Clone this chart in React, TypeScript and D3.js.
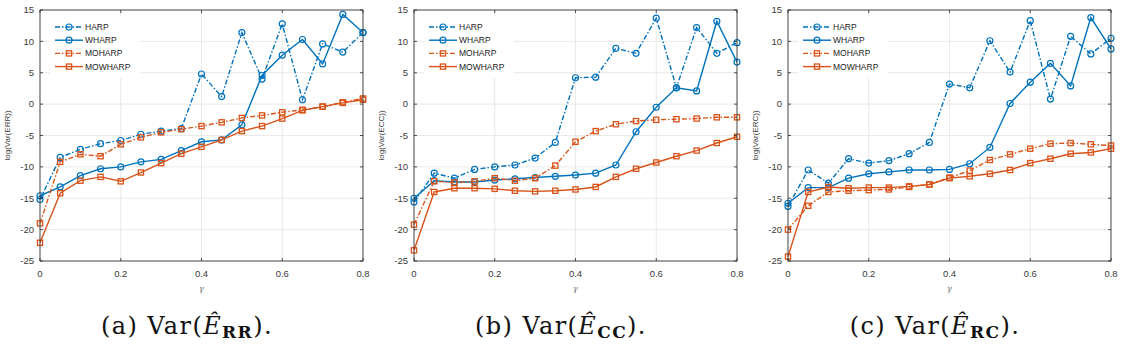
import React, { useEffect, useRef } from 'react';
import * as d3 from 'd3';

const gammas = [0, 0.05, 0.1, 0.15, 0.2, 0.25, 0.3, 0.35, 0.4, 0.45, 0.5, 0.55, 0.6, 0.65, 0.7, 0.75, 0.8];
const seriesNames = ['HARP', 'WHARP', 'MOHARP', 'MOWHARP'];
const xTicks = [0, 0.2, 0.4, 0.6, 0.8];
const yTicks = [-25, -20, -15, -10, -5, 0, 5, 10, 15];

// panel (a) ERR
const errHarp = [-15.2, -8.5, -7.2, -6.3, -5.8, -4.8, -4.3, -3.9, 4.8, 1.2, 11.4, 4.0, 12.8, 0.7, 9.6, 8.3, 11.4];
const errWharp = [-14.6, -13.2, -11.4, -10.3, -10.0, -9.2, -8.8, -7.4, -6.0, -5.7, -3.3, 4.6, 7.8, 10.3, 6.4, 14.3, 11.4];
const errMoharp = [-19.0, -9.2, -8.0, -8.3, -6.4, -5.3, -4.5, -4.0, -3.5, -2.9, -2.2, -1.8, -1.3, -0.9, -0.4, 0.3, 0.9];
const errMowharp = [-22.1, -14.2, -12.2, -11.6, -12.3, -10.9, -9.4, -7.9, -6.8, -5.7, -4.3, -3.5, -2.3, -1.0, -0.4, 0.2, 0.7];

// panel (b) ECC
const eccHarp = [-15.6, -11.0, -11.8, -10.4, -10.0, -9.7, -8.6, -6.1, 4.2, 4.3, 8.9, 8.1, 13.7, 2.6, 12.2, 8.1, 9.8];
const eccWharp = [-15.0, -12.2, -12.4, -12.4, -12.1, -11.9, -11.7, -11.5, -11.3, -11.0, -9.7, -4.4, -0.5, 2.6, 2.1, 13.2, 6.7];
const eccMoharp = [-19.2, -12.3, -12.5, -12.3, -11.8, -12.2, -11.8, -9.8, -6.0, -4.3, -3.2, -2.7, -2.5, -2.4, -2.3, -2.1, -2.1];
const eccMowharp = [-23.3, -14.0, -13.4, -13.4, -13.5, -13.8, -13.9, -13.8, -13.6, -13.2, -11.6, -10.3, -9.3, -8.3, -7.4, -6.2, -5.2];

// panel (c) ERC
const ercHarp = [-16.3, -10.5, -12.6, -8.7, -9.4, -9.0, -7.9, -6.1, 3.2, 2.6, 10.1, 5.1, 13.3, 0.8, 10.8, 8.0, 10.5];
const ercWharp = [-15.8, -13.3, -13.3, -11.8, -11.1, -10.8, -10.5, -10.5, -10.4, -9.5, -6.9, 0.1, 3.5, 6.5, 2.9, 13.8, 8.8];
const ercMoharp = [-20.0, -16.2, -14.0, -13.8, -13.7, -13.6, -13.2, -12.8, -11.7, -10.6, -8.9, -8.0, -7.1, -6.3, -6.2, -6.4, -6.6];
const ercMowharp = [-24.3, -14.0, -13.2, -13.4, -13.3, -13.3, -13.1, -12.8, -11.8, -11.5, -11.1, -10.5, -9.4, -8.7, -7.9, -7.7, -7.1];

const panels = [
  { yLabel: 'log(Var(ERR))', tag: '(a)', sub: 'RR', series: [errHarp, errWharp, errMoharp, errMowharp] },
  { yLabel: 'log(Var(ECC))', tag: '(b)', sub: 'CC', series: [eccHarp, eccWharp, eccMoharp, eccMowharp] },
  { yLabel: 'log(Var(ERC))', tag: '(c)', sub: 'RC', series: [ercHarp, ercWharp, ercMoharp, ercMowharp] },
];

const BLUE = '#0072BD';
const ORANGE = '#D95319';
const colors = [BLUE, BLUE, ORANGE, ORANGE];
const dashed = [true, false, true, false];
const squares = [false, false, true, true];
const DASH = '5,2,1.5,2';
const SANS = 'Liberation Sans, Arial, sans-serif';

const W = 1122;
const H = 344;
const panelW = 374;
const margin = { left: 40, right: 11, top: 10, bottom: 83 };

export default function App() {
  const ref = useRef<SVGSVGElement>(null);

  useEffect(() => {
    if (!ref.current) return;
    const svg = d3.select(ref.current);
    svg.selectAll('*').remove();

    const x = d3.scaleLinear().domain([0, 0.8]).range([margin.left, panelW - margin.right]);
    const y = d3.scaleLinear().domain([-25, 15]).range([H - margin.bottom, margin.top]);

    panels.forEach((p, pi) => {
      const g = svg.append('g').attr('transform', `translate(${pi * panelW},0)`);
      const [x0, x1] = x.range();
      const [y0, y1] = y.range();

      g.append('rect')
        .attr('x', x0).attr('y', y1)
        .attr('width', x1 - x0).attr('height', y0 - y1)
        .attr('fill', '#fff');

      // grid
      g.selectAll('.gx').data(xTicks).enter().append('line')
        .attr('x1', d => x(d)).attr('x2', d => x(d))
        .attr('y1', y0).attr('y2', y1)
        .attr('stroke', '#e3e3e3').attr('stroke-width', 0.8);
      g.selectAll('.gy').data(yTicks).enter().append('line')
        .attr('x1', x0).attr('x2', x1)
        .attr('y1', d => y(d)).attr('y2', d => y(d))
        .attr('stroke', '#e3e3e3').attr('stroke-width', 0.8);

      // legend background
      g.append('rect')
        .attr('x', x0 + 10).attr('y', y(14))
        .attr('width', 90).attr('height', 62)
        .attr('fill', '#fff');

      // series
      p.series.forEach((vals, si) => {
        const line = d3.line<number>().x((_, i) => x(gammas[i])).y(d => y(d));
        g.append('path')
          .attr('d', line(vals))
          .attr('fill', 'none')
          .attr('stroke', colors[si])
          .attr('stroke-width', 1.4)
          .attr('stroke-dasharray', dashed[si] ? DASH : null);
        vals.forEach((v, i) => {
          if (squares[si]) {
            g.append('rect')
              .attr('x', x(gammas[i]) - 2.6).attr('y', y(v) - 2.6)
              .attr('width', 5.2).attr('height', 5.2)
              .attr('fill', 'none').attr('stroke', colors[si]).attr('stroke-width', 1.3);
          } else {
            g.append('circle')
              .attr('cx', x(gammas[i])).attr('cy', y(v)).attr('r', 3)
              .attr('fill', 'none').attr('stroke', colors[si]).attr('stroke-width', 1.2);
          }
        });
      });

      // legend
      seriesNames.forEach((name, si) => {
        const ly = 27 + si * 13.2;
        const lx0 = x0 + 15, lx1 = x0 + 43;
        g.append('line')
          .attr('x1', lx0).attr('x2', lx1).attr('y1', ly).attr('y2', ly)
          .attr('stroke', colors[si]).attr('stroke-width', 1.4)
          .attr('stroke-dasharray', dashed[si] ? DASH : null);
        const cx = (lx0 + lx1) / 2;
        if (squares[si]) {
          g.append('rect').attr('x', cx - 2.6).attr('y', ly - 2.6).attr('width', 5.2).attr('height', 5.2)
            .attr('fill', 'none').attr('stroke', colors[si]).attr('stroke-width', 1.3);
        } else {
          g.append('circle').attr('cx', cx).attr('cy', ly).attr('r', 3)
            .attr('fill', 'none').attr('stroke', colors[si]).attr('stroke-width', 1.2);
        }
        g.append('text')
          .attr('x', lx1 + 2).attr('y', ly + 3)
          .attr('font-family', SANS)
          .attr('font-size', 8.5).attr('fill', '#222')
          .text(name);
      });

      // axes box
      g.append('rect')
        .attr('x', x0).attr('y', y1)
        .attr('width', x1 - x0).attr('height', y0 - y1)
        .attr('fill', 'none').attr('stroke', '#262626').attr('stroke-width', 0.8);

      // ticks (inward)
      xTicks.forEach(t => {
        g.append('line').attr('x1', x(t)).attr('x2', x(t)).attr('y1', y0).attr('y2', y0 - 3)
          .attr('stroke', '#262626').attr('stroke-width', 0.8);
        g.append('line').attr('x1', x(t)).attr('x2', x(t)).attr('y1', y1).attr('y2', y1 + 3)
          .attr('stroke', '#262626').attr('stroke-width', 0.8);
        g.append('text')
          .attr('x', x(t)).attr('y', y0 + 15.5)
          .attr('text-anchor', 'middle')
          .attr('font-family', SANS)
          .attr('font-size', 9.5).attr('fill', '#3a3a3a')
          .text(String(t));
      });
      yTicks.forEach(t => {
        g.append('line').attr('x1', x0).attr('x2', x0 + 3).attr('y1', y(t)).attr('y2', y(t))
          .attr('stroke', '#262626').attr('stroke-width', 0.8);
        g.append('line').attr('x1', x1).attr('x2', x1 - 3).attr('y1', y(t)).attr('y2', y(t))
          .attr('stroke', '#262626').attr('stroke-width', 0.8);
        g.append('text')
          .attr('x', x0 - 6).attr('y', y(t) + 3.3)
          .attr('text-anchor', 'end')
          .attr('font-family', SANS)
          .attr('font-size', 9.5).attr('fill', '#3a3a3a')
          .text(String(t));
      });

      // axis labels
      g.append('text')
        .attr('transform', `translate(10,${(y0 + y1) / 2}) rotate(-90)`)
        .attr('text-anchor', 'middle')
        .attr('font-family', SANS)
        .attr('font-size', 8).attr('fill', '#3a3a3a')
        .text(p.yLabel);
      g.append('text')
        .attr('x', (x0 + x1) / 2).attr('y', y0 + 30)
        .attr('text-anchor', 'middle')
        .attr('font-family', 'DejaVu Serif, serif')
        .attr('font-style', 'italic')
        .attr('font-size', 8).attr('fill', '#666')
        .text('γ');

      // caption
      const cap = g.append('text')
        .attr('x', 187).attr('y', 334)
        .attr('text-anchor', 'middle')
        .attr('font-family', 'DejaVu Serif, serif')
        .attr('letter-spacing', 1.4)
        .attr('font-size', 24).attr('fill', '#111');
      cap.append('tspan').text(`${p.tag} Var(`);
      cap.append('tspan').attr('font-style', 'italic').text('Ê');
      cap.append('tspan').attr('font-weight', 'bold').attr('font-size', 17).attr('dy', 4).text(p.sub);
      cap.append('tspan').attr('dy', -4).text(').');
    });
  }, []);

  return (
    <svg ref={ref} width={W} height={H} style={{ position: 'absolute', left: 0, top: 0, background: '#fff' }} />
  );
}
